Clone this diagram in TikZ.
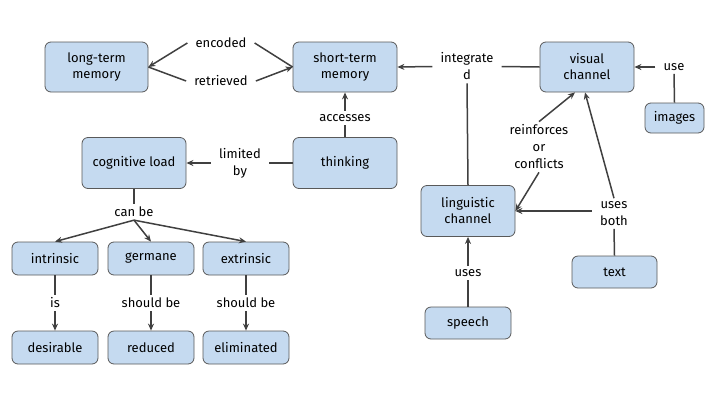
\documentclass[tikz,border=0pt]{standalone}
\usepackage{fontspec}
\setmainfont{Fira Sans}
\usepackage{tikz}
\usetikzlibrary{arrows.meta}
\definecolor{boxfill}{RGB}{197,218,240}
\definecolor{boxline}{RGB}{89,89,89}
\definecolor{linkline}{RGB}{64,64,64}

\begin{document}
\begin{tikzpicture}[x=1pt, y=-1pt,
		C/.style = {rectangle, draw=boxline, fill=boxfill,% concept boxes
			rounded corners=6pt, line width=0.8pt,
			align=center, font=\fontsize{13}{16}\selectfont,
			minimum width=#1},
		C/.default=86pt,
		big/.style = {C=#1, minimum height=50pt},
		big/.default=104pt,
		small/.style = {C=#1, minimum height=33pt},
		small/.default=86pt,
		lbl/.style = {align=center, inner xsep=8pt, inner ysep=3pt,% link words
			font=\fontsize{13}{17}\selectfont},
		ln/.style = {draw=linkline, line width=1.5pt},
		arr/.style = {ln, -{Stealth[length=7pt,width=6pt]}},
		]
		\useasboundingbox (0,0) rectangle (720,405);
		% concepts
		\node[big=103pt] (ltm) at (96.5,67) {long-term\\memory};
		\node[big] (stm) at (345,67) {short-term\\memory};
		\node[big=94pt] (vis) at (587,67) {visual\\channel};
		\node[small=59pt, minimum height=30pt] (img) at (674.5,118) {images};
		\node[big, minimum height=51pt] (cog) at (134,163) {cognitive load};
		\node[big, minimum height=51pt] (think) at (345,163) {thinking};
		\node[big=94pt, minimum height=51pt] (ling) at (468,211) {linguistic\\channel};
		\node[small=85pt, minimum height=32pt] (txt) at (614.5,272) {text};
		\node[small, minimum height=32pt] (sp) at (468,323) {speech};
		\node[small] (intr) at (55,258.5) {intrinsic};
		\node[small] (germ) at (151,258.5) {germane};
		\node[small] (extr) at (246,258.5) {extrinsic};
		\node[small] (des) at (55,347.5) {desirable};
		\node[small] (red) at (151,347.5) {reduced};
		\node[small] (elim) at (246,347.5) {eliminated};
		% linking words
		\node[lbl] (enc) at (221,43) {encoded};
		\node[lbl] (ret) at (221,81) {retrieved};
		\node[lbl] (intg) at (467,66.5) {integrate\\d};
		\node[lbl] (use) at (674,67) {use};
		\node[lbl] (acc) at (345,118) {accesses};
		\node[lbl] (lim) at (240,163) {limited\\by};
		\node[lbl] (canbe) at (134,212) {can be};
		\node[lbl] (is) at (55,303) {is};
		\node[lbl] (sbr) at (151,303) {should be};
		\node[lbl] (sbe) at (246,303) {should be};
		\node[lbl] (rc) at (539,147) {reinforces\\or\\conflicts};
		\node[lbl] (ub) at (614,213.5) {uses\\both};
		\node[lbl] (uses) at (468,273) {uses};
		% links
		\draw[ln] (stm.west) -- (enc.east);
		\draw[arr] (enc.west) -- (ltm.east);
		\draw[ln] (ltm.east) -- (ret.west);
		\draw[arr] (ret.east) -- (stm.west);
		\draw[ln] (vis.west) -- (intg.east);
		\draw[arr] (intg.west) -- (stm.east);
		\draw[ln] (ling.north) -- (intg.south);
		\draw[ln] (img.north) -- (use.south);
		\draw[arr] (use.west) -- (vis.east);
		\draw[ln] (think.north) -- (acc.south);
		\draw[arr] (acc.north) -- (stm.south);
		\draw[ln] (think.west) -- (lim.east);
		\draw[arr] (lim.west) -- (cog.east);
		\draw[ln] (cog.south) -- (canbe.north);
		\foreach \t in {intr,germ,extr}
		\draw[arr] (canbe.south) -- (\t.north);
		\foreach \a/\w/\b in {intr/is/des,germ/sbr/red,extr/sbe/elim}{
			\draw[ln] (\a.south) -- (\w.north);
			\draw[arr] (\w.south) -- (\b.north);
		}
		\draw[arr] (rc.north) -- ([xshift=-12pt]vis.south);
		\draw[arr] (rc.south) -- (ling.east);
		\draw[ln] (txt.north) -- (ub.south);
		\draw[arr] (ub.west |- ling.east) -- (ling.east);
		\draw[arr] (ub.north) -- ([xshift=-2pt]vis.south);
		\draw[ln] (sp.north) -- (uses.south);
		\draw[arr] (uses.north) -- (ling.south);
	\end{tikzpicture}
\end{document}
